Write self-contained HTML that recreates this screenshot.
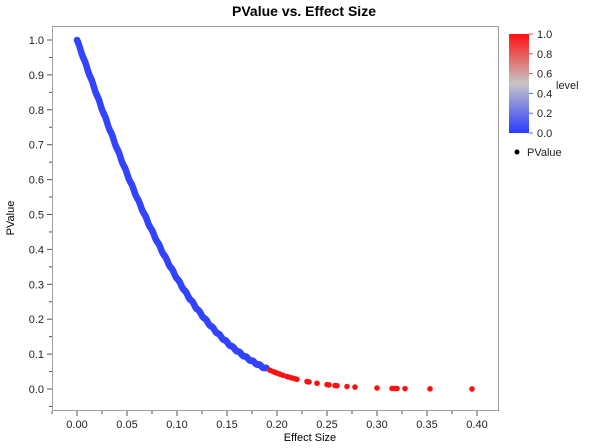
<!DOCTYPE html>
<html><head><meta charset="utf-8"><style>
body{margin:0;background:#fff;}
svg{display:block;font-family:"Liberation Sans",Arial,sans-serif;}
</style></head><body>
<svg id="s" width="608" height="448" viewBox="0 0 608 448">
<rect width="608" height="448" fill="#fff"/>
<defs><linearGradient id="g" x1="0" y1="1" x2="0" y2="0">
<stop offset="0" stop-color="#2a3bff"/><stop offset="0.5" stop-color="#c6c6c6"/><stop offset="1" stop-color="#ff1010"/></linearGradient></defs>
<text x="304" y="16" text-anchor="middle" font-size="14" font-weight="bold">PValue vs. Effect Size</text>
<rect x="52.5" y="26.5" width="446" height="384" fill="none" stroke="#a0a0a0"/>
<g id="ax" stroke="#555" stroke-width="1"></g>
<g id="lab" font-size="11" fill="#222"></g>
<text x="310" y="441" text-anchor="middle" font-size="11">Effect Size</text>
<text transform="translate(14,218) rotate(-90)" text-anchor="middle" font-size="11">PValue</text>
<g id="pts"></g>
<rect x="509" y="34" width="20" height="99" fill="url(#g)"/>
<g id="cb" font-size="11" fill="#222"></g>
<text x="556" y="89" font-size="11" fill="#222">level</text>
<circle cx="517" cy="152" r="2.5" fill="#000"/>
<text x="527" y="156" font-size="11" fill="#222">PValue</text>
</svg>
<script>
const NS="http://www.w3.org/2000/svg";
function el(p,t,a,txt){const e=document.createElementNS(NS,t);for(const k in a)e.setAttribute(k,a[k]);if(txt!=null)e.textContent=txt;document.getElementById(p).appendChild(e);}
const X=v=>77+v*1000, Y=v=>389-v*349;
for(let i=0;i<=10;i++){const y=Y(i/10);el("ax","line",{x1:47,x2:52,y1:y,y2:y});el("lab","text",{x:44,y:y+4,"text-anchor":"end"},(i/10).toFixed(1));
 if(i<10){const ym=Y(i/10+0.05);el("ax","line",{x1:49,x2:52,y1:ym,y2:ym});}}
el("ax","line",{x1:49,x2:52,y1:Y(-0.05),y2:Y(-0.05)});
for(let i=0;i<=8;i++){const x=X(i*0.05);el("ax","line",{x1:x,x2:x,y1:411,y2:416});el("lab","text",{x:x,y:428,"text-anchor":"middle"},(i*0.05).toFixed(2));
 const xm=X(i*0.05+0.025);if(xm<498)el("ax","line",{x1:xm,x2:xm,y1:411,y2:414});}
el("ax","line",{x1:X(-0.025),x2:X(-0.025),y1:411,y2:414});
function erf(x){const t=1/(1+0.3275911*x);return 1-(((((1.061405429*t-1.453152027)*t)+1.421413741)*t-0.284496736)*t+0.254829592)*t*Math.exp(-x*x);}
const p=e=>1-erf(e*10/Math.SQRT2);
for(let e=0;e<=0.19;e+=0.0005){const j=(Math.sin(e*937)*0.002);el("pts","circle",{cx:X(e),cy:Y(p(e)+j),r:3.3,fill:"#3344ff"});}
[0.193,0.196,0.198,0.2,0.203,0.206,0.21,0.212,0.215,0.218,0.22,0.23,0.232,0.24,0.25,0.252,0.258,0.26,0.27,0.278,0.3,0.315,0.318,0.32,0.328,0.353,0.395].forEach(e=>el("pts","circle",{cx:X(e),cy:Y(p(e)),r:2.8,fill:"#ff1010"}));
for(let i=0;i<=5;i++){const y=133-i*19.8;el("cb","line",{x1:529,x2:533,y1:y,y2:y,stroke:i>2?"#e05050":"#5060ff"});el("cb","text",{x:537,y:y+4},(i/5).toFixed(1));}
</script>
</body></html>
